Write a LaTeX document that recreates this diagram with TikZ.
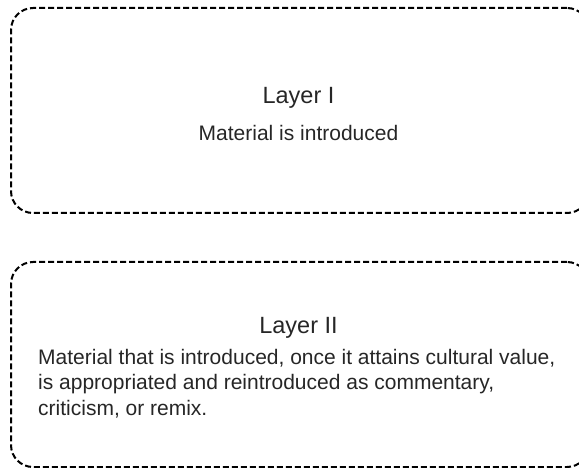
\documentclass[tikz,border=0pt]{standalone}
\usepackage{fontspec}
\setmainfont{Liberation Sans}
\definecolor{textgray}{HTML}{262626}
\begin{document}
\begin{tikzpicture}[x=1pt,y=-1pt,
  layerbox/.style={draw=black, line width=2pt, dash pattern=on 6pt off 3pt, rounded corners=22pt, minimum width=578pt, minimum height=205pt, anchor=north west, inner sep=0pt},
  titletext/.style={font=\fontsize{23.5}{28}\selectfont, text=textgray, anchor=base, inner sep=0pt},
  bodytext/.style={font=\fontsize{21}{25.5}\selectfont, text=textgray, anchor=base, inner sep=0pt},
  bodyleft/.style={bodytext, anchor=base west}]
\useasboundingbox (0,0) rectangle (579,468);
\clip (0,0) rectangle (579,468);
\node[layerbox] (box1) at (10,7) {};
\node[layerbox] (box2) at (10,261) {};
\node[titletext] (t1) at (298.5,104) {Layer I};
\node[bodytext] (b1) at (298.5,141) {Material is introduced};
\node[titletext] (t2) at (298.5,333) {Layer II};
\node[bodyleft] (l1) at (38,364) {Material that is introduced, once it attains cultural value,};
\node[bodyleft] (l2) at (38,389.5) {is appropriated and reintroduced as commentary,};
\node[bodyleft] (l3) at (38,415) {criticism, or remix.};
\end{tikzpicture}
\end{document}
